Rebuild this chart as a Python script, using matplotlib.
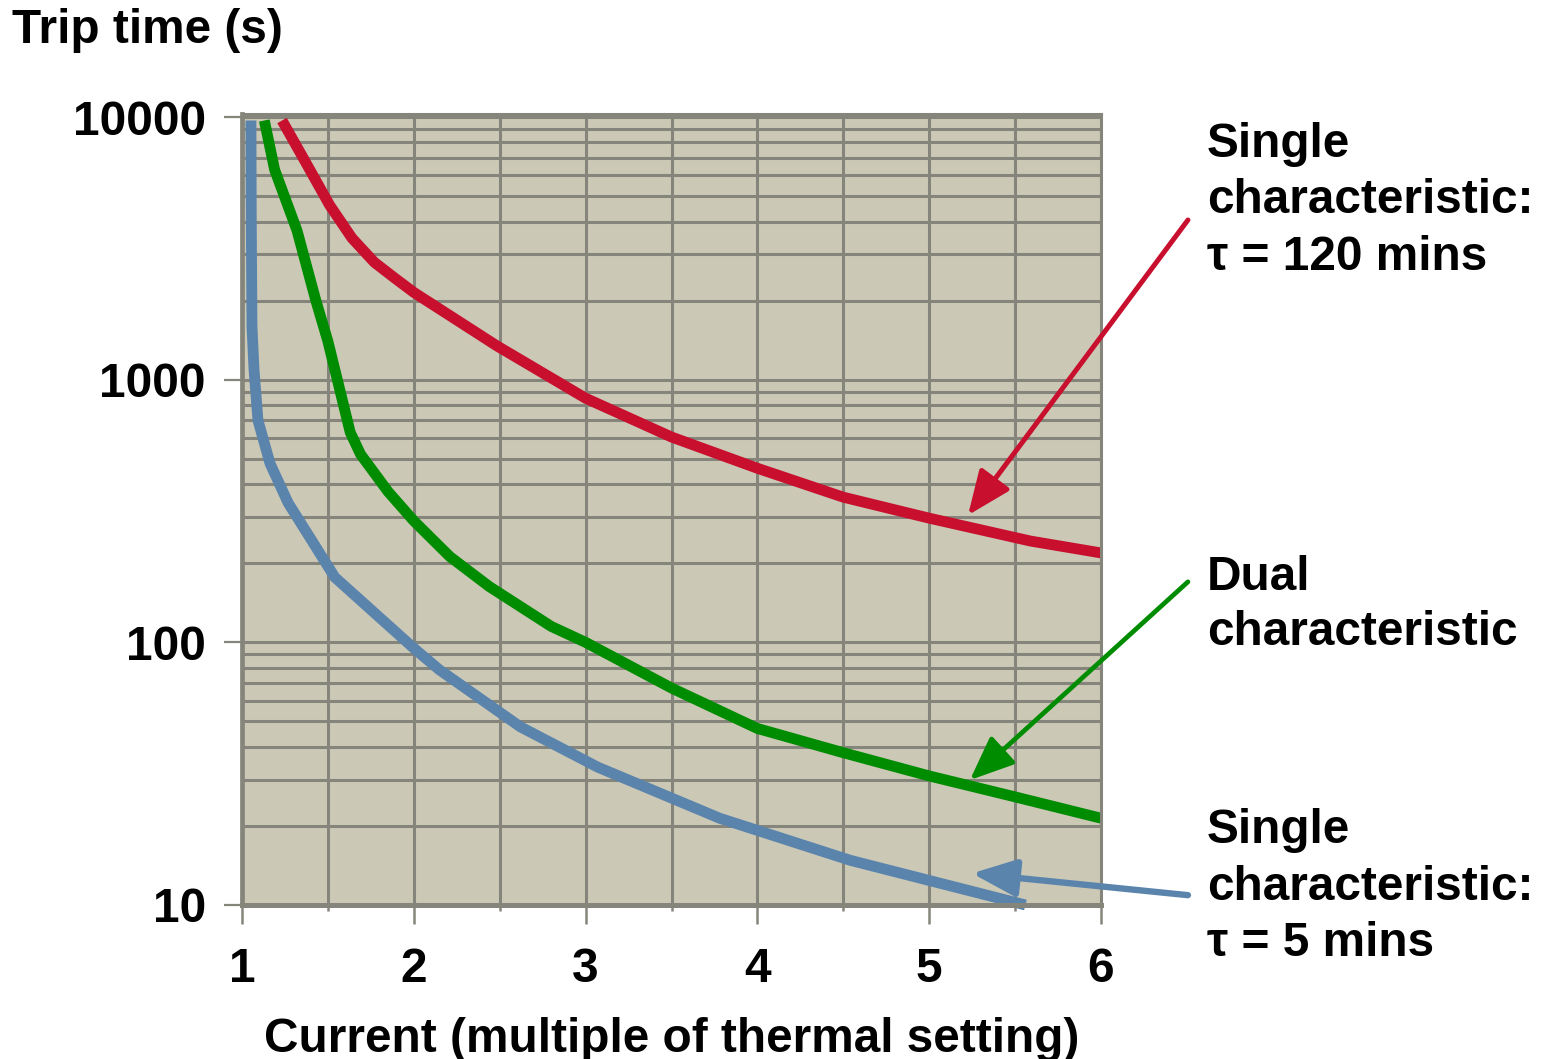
import matplotlib
matplotlib.use("Agg")
import matplotlib.pyplot as plt
from matplotlib.patches import ArrowStyle
from matplotlib.ticker import FixedLocator, LogLocator, NullFormatter

# Thermal overload trip curves: trip time vs current multiple
current_tau120 = [1.233, 1.347, 1.51, 1.64, 1.77, 1.888, 2.0, 2.48, 3.0, 3.5, 4.0,
                  4.5, 5.0, 5.59, 6.0]
trip_tau120 = [9700, 7160, 4620, 3460, 2800, 2440, 2150, 1350, 850, 605, 460,
               357, 297, 243, 219]

current_dual = [1.13, 1.19, 1.32, 1.43, 1.5, 1.63, 1.69, 1.85, 2.0, 2.21, 2.44,
                2.8, 3.0, 3.5, 4.0, 4.5, 5.0, 5.5, 6.0]
trip_dual = [9700, 6300, 3700, 2000, 1400, 630, 520, 375, 290, 212, 163,
             115, 100, 67, 47, 38, 31, 25.8, 21.4]

current_tau5 = [1.052, 1.054, 1.058, 1.07, 1.093, 1.163, 1.268, 1.54, 2.0, 2.15,
                2.62, 3.07, 3.78, 4.54, 5.0, 5.56]
trip_tau5 = [9700, 4050, 1600, 1090, 700, 480, 340, 177, 95, 78.5,
             47.7, 33.5, 21.4, 14.8, 12.4, 10.0]

x_ticks = [1, 2, 3, 4, 5, 6]
y_ticks = [10, 100, 1000, 10000]
y_tick_labels = ["10", "100", "1000", "10000"]

RED = "#c8102e"
GREEN = "#008c00"
BLUE = "#5b84ad"
GRID = "#85857b"
FACE = "#cbc8b6"
FONT = "Liberation Sans"
FS = 34.4

W, H = 1550, 1059
fig = plt.figure(figsize=(W / 100, H / 100), dpi=100)
ax = fig.add_axes([242 / W, 1 - 905 / H, (1101 - 242) / W, (905 - 114) / H])
ax.set_facecolor(FACE)

ax.set_yscale("log")
ax.set_xlim(1, 6)
ax.set_ylim(10, 10270)

# grid: every half unit in x, every log minor step in y
ax.xaxis.set_major_locator(FixedLocator(x_ticks))
ax.xaxis.set_minor_locator(FixedLocator([1.5, 2.5, 3.5, 4.5, 5.5]))
ax.yaxis.set_major_locator(FixedLocator(y_ticks))
ax.yaxis.set_minor_locator(LogLocator(base=10, subs=range(2, 10)))
ax.yaxis.set_minor_formatter(NullFormatter())
ax.set_yticklabels(y_tick_labels)
ax.set_xticklabels([str(v) for v in x_ticks])

ax.grid(True, which="both", color=GRID, linewidth=2.2)
ax.set_axisbelow(True)

for side, lw in (("left", 3.4), ("bottom", 3.6), ("top", 2.2), ("right", 2.2)):
    ax.spines[side].set_color(GRID)
    ax.spines[side].set_linewidth(lw)

ax.tick_params(axis="y", which="major", length=13, width=1.6, color=GRID, pad=13,
               labelsize=FS)
ax.tick_params(axis="y", which="minor", length=0)
ax.tick_params(axis="x", which="major", length=14, width=1.8, color=GRID, pad=16,
               labelsize=FS)
ax.tick_params(axis="x", which="minor", length=4, width=1.8, color=GRID)
for lab in ax.get_xticklabels() + ax.get_yticklabels():
    lab.set_fontfamily(FONT)
    lab.set_fontweight("bold")

# curves
lw_curve = 7.8
for xs, ys, col in ((current_tau120, trip_tau120, RED),
                    (current_dual, trip_dual, GREEN),
                    (current_tau5, trip_tau5, BLUE)):
    ax.plot(xs, ys, color=col, lw=lw_curve, solid_capstyle="butt",
            solid_joinstyle="round", clip_on=False)

# axis titles
ax.set_xlabel("Current (multiple of thermal setting)", fontsize=FS, fontweight="bold",
              fontfamily=FONT, labelpad=18)
fig.text(12 / W, 1 - 43 / H, "Trip time (s)", fontsize=FS, fontweight="bold",
         fontfamily=FONT, ha="left", va="baseline")

# callout labels, one line per baseline
def callout(lines, baselines):
    for txt, yb in zip(lines, baselines):
        fig.text(1207 / W, 1 - yb / H, txt, fontsize=FS, fontweight="bold",
                 fontfamily=FONT, ha="left", va="baseline")

callout(["Single", "characteristic:", "τ = 120 mins"], [157, 213, 270])
callout(["Dual", "characteristic"], [590, 645])
callout(["Single", "characteristic:", "τ = 5 mins"], [843, 900, 956])

# arrows from labels to the curves
head = ArrowStyle("-|>", head_length=1.0, head_width=0.42)
ax.annotate("", xy=(5.226, 305), xytext=(6.506, 4055), annotation_clip=False,
            arrowprops=dict(arrowstyle=head, color=RED, lw=3.6, mutation_scale=27,
                            shrinkA=0, shrinkB=0))
ax.annotate("", xy=(5.237, 29.9), xytext=(6.506, 170), annotation_clip=False,
            arrowprops=dict(arrowstyle=head, color=GREEN, lw=3.4, mutation_scale=27,
                            shrinkA=0, shrinkB=0))
ax.annotate("", xy=(5.249, 13.2), xytext=(6.506, 10.9), annotation_clip=False,
            arrowprops=dict(arrowstyle=head, color=BLUE, lw=4.6, mutation_scale=27,
                            shrinkA=0, shrinkB=0))

fig.savefig("out.png", dpi=100)
